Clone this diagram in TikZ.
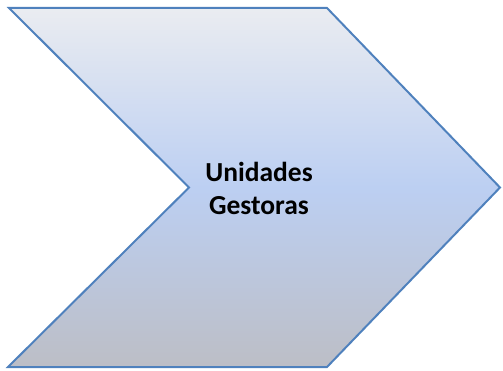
\documentclass[tikz,border=0pt]{standalone}
\usepackage{fontspec}
\setmainfont{Carlito}
\definecolor{edgeblue}{RGB}{79,129,189}
\definecolor{topgray}{RGB}{234,236,241}
\definecolor{midblue}{RGB}{188,207,242}
\definecolor{botgray}{RGB}{188,190,198}
\pgfdeclareverticalshading{chevshade}{100bp}{color(0bp)=(botgray); color(25bp)=(botgray); color(50bp)=(midblue); color(75bp)=(topgray); color(100bp)=(topgray)}
\tikzset{
  chevedge/.style={draw=edgeblue, line width=2pt, line join=miter},
  label/.style={font=\bfseries\fontsize{27.5}{33}\selectfont, align=center, text=black}
}
\begin{document}
\begin{tikzpicture}[x=1pt,y=1pt]
\useasboundingbox (0,0) rectangle (503,370);
\coordinate (A) at (9,362);
\coordinate (B) at (327,362);
\coordinate (C) at (500,182.5);
\coordinate (D) at (327,3);
\coordinate (E) at (8,3);
\coordinate (F) at (189,182.5);
\foreach \s in {1,2,3}{
  \fill[black,opacity=0.10,shift={(\s*1.0,-\s*1.0)}] (A) -- (B) -- (C) -- (D) -- (E) -- (F) -- cycle;
}
\path[shading=chevshade] (A) -- (B) -- (C) -- (D) -- (E) -- (F) -- cycle;
\draw[chevedge] (A) -- (B) -- (C) -- (D) -- (E) -- (F) -- cycle;
\node[label] (t) at (259,182) {Unidades\\Gestoras};
\end{tikzpicture}
\end{document}
